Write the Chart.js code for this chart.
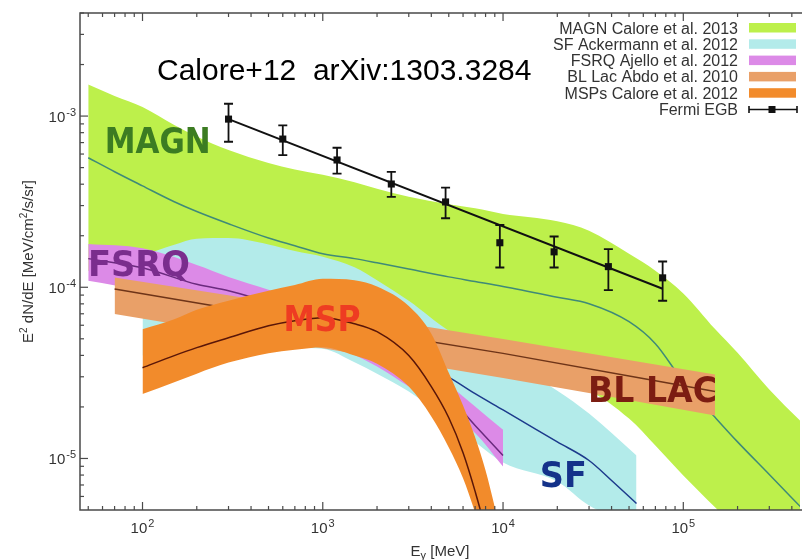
<!DOCTYPE html>
<html>
<head>
<meta charset="utf-8">
<title>Extragalactic gamma-ray background components</title>
<script src="https://cdn.jsdelivr.net/npm/chart.js@4.4.0/dist/chart.umd.min.js"></script>
<style>
  html, body { margin: 0; padding: 0; background: #fff; }
  #wrap { width: 805px; height: 560px; overflow: hidden; }
</style>
</head>
<body>
<div id="wrap"><canvas id="chart" width="805" height="560"></canvas></div>
<script>
// Energies in MeV, fluxes as E^2 dN/dE in MeV/cm^2/s/sr

// MAGN (Calore et al. 2013)
const magnE    = [50, 70, 100, 150, 200, 300, 500, 700, 1000, 1500, 2000, 3000, 5000, 7000, 1e4, 2e4, 3e4, 5e4, 7e4, 1e5, 1.5e5, 2e5, 3e5, 4.5e5];
const magnHigh = [1.53e-3, 1.31e-3, 1.13e-3, 8.87e-4, 7.60e-4, 6.33e-4, 5.32e-4, 4.88e-4, 4.54e-4, 4.10e-4, 3.76e-4, 3.38e-4, 3.05e-4, 2.89e-4, 2.68e-4, 2.43e-4, 2.14e-4, 1.57e-4, 1.25e-4, 9.21e-5, 5.71e-5, 4.15e-5, 2.53e-5, 1.64e-5];
const magnMid  = [5.71e-4, 4.73e-4, 3.91e-4, 3.16e-4, 2.77e-4, 2.35e-4, 1.94e-4, 1.75e-4, 1.57e-4, 1.47e-4, 1.39e-4, 1.28e-4, 1.15e-4, 1.08e-4, 1.01e-4, 8.74e-5, 8.01e-5, 6.29e-5, 4.68e-5, 2.81e-5, 1.74e-5, 1.25e-5, 8.06e-6, 5.18e-6];
const magnLow  = [1.25e-4, 1.17e-4, 1.09e-4, 9.54e-5, 8.92e-5, 8.34e-5, 7.29e-5, 6.82e-5, 6.38e-5, 5.81e-5, 5.43e-5, 5.01e-5, 4.38e-5, 3.99e-5, 3.63e-5, 2.77e-5, 2.49e-5, 1.71e-5, 1.19e-5, 7.96e-6, 5.18e-6, 3.80e-6, 2.54e-6, 1.59e-6];

// SF (Ackermann et al. 2012)
const sfE     = [100, 150, 200, 300, 500, 700, 1000, 1500, 2000, 3000, 5000, 1e4, 2e4, 3e4, 5.5e4];
const sfHigh  = [1.53e-4, 1.77e-4, 1.92e-4, 1.94e-4, 1.78e-4, 1.63e-4, 1.51e-4, 1.31e-4, 1.10e-4, 8.34e-5, 5.58e-5, 3.83e-5, 2.49e-5, 1.83e-5, 1.04e-5];
const sfLow   = [3.99e-5, 4.10e-5, 4.21e-5, 4.26e-5, 4.38e-5, 4.44e-5, 4.38e-5, 3.65e-5, 3.13e-5, 2.46e-5, 1.67e-5, 9.48e-6, 7.34e-6, 5.32e-6, 4.07e-6];
const sfLineE = [4500, 5000, 7000, 1e4, 2e4, 3e4, 4e4, 5.5e4];
const sfMid   = [3.17e-5, 2.99e-5, 2.39e-5, 1.92e-5, 1.25e-5, 9.73e-6, 7.44e-6, 5.46e-6];

// FSRQ (Ajello et al. 2012)
const fsrqE    = [50, 100, 200, 300, 500, 1000, 1500, 2000, 3000, 5000, 7000, 1e4];
const fsrqHigh = [1.79e-4, 1.69e-4, 1.35e-4, 1.15e-4, 9.67e-5, 7.29e-5, 6.12e-5, 5.21e-5, 4.15e-5, 2.70e-5, 2.01e-5, 1.47e-5];
const fsrqMid  = [1.47e-4, 1.30e-4, 1.04e-4, 9.54e-5, 8.12e-5, 5.96e-5, 5.01e-5, 4.26e-5, 3.05e-5, 2.27e-5, 1.56e-5, 1.04e-5];
const fsrqLow  = [1.09e-4, 9.54e-5, 7.80e-5, 6.82e-5, 5.73e-5, 4.88e-5, 4.04e-5, 3.44e-5, 2.63e-5, 1.87e-5, 1.41e-5, 8.98e-6];

// BL Lac (Abdo et al. 2010)
const bllacE    = [70, 1000, 1e4, 1.5e5];
const bllacHigh = [1.14e-4, 7.35e-5, 4.98e-5, 3.09e-5];
const bllacMid  = [9.76e-5, 6.08e-5, 4.11e-5, 2.46e-5];
const bllacLow  = [6.98e-5, 4.40e-5, 2.95e-5, 1.78e-5];

// MSPs (Calore et al. 2012)
const mspE    = [100, 150, 200, 300, 500, 700, 1000, 1500, 2000, 3000, 4000, 5000, 6000, 7000, 8000, 9000, 1e4];
const mspHigh = [5.69e-5, 6.51e-5, 7.39e-5, 8.34e-5, 9.54e-5, 1.03e-4, 1.12e-4, 1.10e-4, 1.01e-4, 7.77e-5, 5.36e-5, 3.17e-5, 2.04e-5, 1.33e-5, 8.51e-6, 5.18e-6, 3.11e-6];
const mspMid  = [3.39e-5, 3.99e-5, 4.44e-5, 5.07e-5, 5.96e-5, 6.38e-5, 6.64e-5, 6.12e-5, 5.50e-5, 3.99e-5, 2.63e-5, 1.73e-5, 1.08e-5, 6.42e-6, 3.80e-6, 2.08e-6, 1.20e-6];
const mspLow  = [2.38e-5, 2.79e-5, 3.13e-5, 3.63e-5, 4.12e-5, 4.32e-5, 4.47e-5, 4.00e-5, 3.58e-5, 2.63e-5, 1.76e-5, 1.16e-5, 7.67e-6, 4.84e-6, 3.11e-6, 1.94e-6, 8.0e-7];

// Fermi EGB data points with error bars, and the power-law line through them
const fermiE    = [300, 600, 1200, 2400, 4800, 9600, 19200, 38400, 76800];
const fermiFlux = [9.60e-4, 7.34e-4, 5.54e-4, 4.01e-4, 3.15e-4, 1.82e-4, 1.61e-4, 1.32e-4, 1.135e-4];
const fermiHigh = [1.18e-3, 8.83e-4, 6.53e-4, 4.72e-4, 3.82e-4, 2.31e-4, 1.98e-4, 1.67e-4, 1.414e-4];
const fermiLow  = [7.08e-4, 5.92e-4, 4.61e-4, 3.37e-4, 2.53e-4, 1.305e-4, 1.305e-4, 9.63e-5, 8.34e-5];
const fermiFitE    = [300, 76800];
const fermiFitFlux = [9.60e-4, 9.80e-5];

// axis ticks
const xTickValues = [1e2, 1e3, 1e4, 1e5];
const xTickExps   = ['2', '3', '4', '5'];
const yTickValues = [1e-5, 1e-4, 1e-3];
const yTickExps   = ['-5', '-4', '-3'];

// legend entries
const legendLabels = ['MAGN Calore et al. 2013', 'SF Ackermann et al. 2012', 'FSRQ Ajello et al. 2012',
                      'BL Lac Abdo et al. 2010', 'MSPs Calore et al. 2012', 'Fermi EGB'];

const FONT = '"Liberation Sans", Arial, Helvetica, sans-serif';
const COLORS = {
  magn: '#bdf04b', magnLine: '#3f8a78',
  sf: '#b3ebea', sfLine: '#1c3a8c',
  fsrq: '#dc8ae7', fsrqLine: '#6a2a7e',
  bllac: '#e9a068', bllacLine: '#6e3418',
  msp: '#f28b2b', mspLine: '#5a1608',
  frame: '#4a4a4a'
};

// in-plot labels (anchor = left/baseline, in data units; width in px)
const bandLabels = [
  { text: 'MAGN',   E: 61.7,   F: 6.08e-4, width: 106, color: '#3c7c22' },
  { text: 'FSRQ',   E: 49.8,   F: 1.17e-4, width: 102, color: '#7a2d8d' },
  { text: 'MSP',    E: 606,    F: 5.58e-5, width: 77,  color: '#ee3c22' },
  { text: 'BL LAC', E: 2.96e4, F: 2.15e-5, width: 129, color: '#7c1d12' },
  { text: 'SF',     E: 1.6e4,  F: 6.78e-6, width: 47,  color: '#14328a' }
];

function pts(xs, ys) {
  return xs.map((x, i) => ({ x: x, y: ys[i] }));
}

function band(xs, hi, lo, color, order) {
  return [
    { data: pts(xs, hi), fill: '+1', backgroundColor: color, borderWidth: 0, pointRadius: 0, order: order, cubicInterpolationMode: 'monotone' },
    { data: pts(xs, lo), fill: false, borderWidth: 0, pointRadius: 0, order: order, cubicInterpolationMode: 'monotone' }
  ];
}

function curve(xs, ys, color, order) {
  return { data: pts(xs, ys), fill: false, borderColor: color, borderWidth: 1.5, pointRadius: 0, order: order, cubicInterpolationMode: 'monotone' };
}

// "10" with a raised exponent
function drawPow(ctx, exp, x, y, align) {
  const size = 15, small = 11;
  ctx.font = size + 'px ' + FONT;
  const wBase = ctx.measureText('10').width;
  ctx.font = small + 'px ' + FONT;
  const wExp = ctx.measureText(exp).width;
  const total = wBase + 1 + wExp;
  const left = align === 'right' ? x - total : x - total / 2;
  ctx.textAlign = 'left';
  ctx.textBaseline = 'alphabetic';
  ctx.font = size + 'px ' + FONT;
  ctx.fillText('10', left, y);
  ctx.font = small + 'px ' + FONT;
  ctx.fillText(exp, left + wBase + 1, y - 6);
}

function minorValues(min, max) {
  const out = [];
  for (let p = Math.floor(Math.log10(min)); p <= Math.ceil(Math.log10(max)); p++) {
    for (let m = 1; m <= 9; m++) {
      const v = m * Math.pow(10, p);
      if (v >= min && v <= max) out.push({ v: v, major: m === 1 });
    }
  }
  return out;
}

const gnuplotPlugin = {
  id: 'gnuplotLook',
  afterDatasetsDraw(chart) {
    const { ctx, scales: { x, y } } = chart;
    // Fermi error bars
    ctx.save();
    ctx.strokeStyle = '#111';
    ctx.lineWidth = 1.8;
    fermiE.forEach((e, i) => {
      const px = x.getPixelForValue(e);
      const y1 = y.getPixelForValue(fermiHigh[i]);
      const y2 = y.getPixelForValue(fermiLow[i]);
      ctx.beginPath();
      ctx.moveTo(px, y1); ctx.lineTo(px, y2);
      ctx.moveTo(px - 4.5, y1); ctx.lineTo(px + 4.5, y1);
      ctx.moveTo(px - 4.5, y2); ctx.lineTo(px + 4.5, y2);
      ctx.stroke();
    });
    ctx.restore();

    // band labels
    ctx.save();
    ctx.textAlign = 'left';
    ctx.textBaseline = 'alphabetic';
    bandLabels.forEach(l => {
      ctx.font = 'bold 36px "DejaVu Sans", sans-serif';
      const w = ctx.measureText(l.text).width;
      const px = x.getPixelForValue(l.E);
      const py = y.getPixelForValue(l.F);
      ctx.save();
      ctx.translate(px, py);
      ctx.scale(l.width / w, 1);
      ctx.fillStyle = l.color;
      ctx.fillText(l.text, 0, 0);
      ctx.restore();
    });
    ctx.restore();
  },
  afterDraw(chart) {
    const { ctx, chartArea: a, scales: { x, y } } = chart;
    ctx.save();
    ctx.strokeStyle = COLORS.frame;
    ctx.fillStyle = '#333';
    ctx.lineWidth = 1.5;

    // frame
    ctx.beginPath();
    ctx.moveTo(a.right + 2, a.top); ctx.lineTo(a.left, a.top);
    ctx.lineTo(a.left, a.bottom); ctx.lineTo(a.right + 2, a.bottom);
    ctx.stroke();

    // inward ticks on bottom and top
    ctx.lineWidth = 1.2;
    minorValues(x.min, x.max).forEach(t => {
      const px = x.getPixelForValue(t.v);
      const len = t.major ? 8 : 4;
      ctx.beginPath();
      ctx.moveTo(px, a.bottom); ctx.lineTo(px, a.bottom - len);
      ctx.moveTo(px, a.top); ctx.lineTo(px, a.top + len);
      ctx.stroke();
    });
    minorValues(y.min, y.max).forEach(t => {
      const py = y.getPixelForValue(t.v);
      const len = t.major ? 8 : 4;
      ctx.beginPath();
      ctx.moveTo(a.left, py); ctx.lineTo(a.left + len, py);
      ctx.stroke();
    });

    // tick labels
    xTickValues.forEach((v, i) => drawPow(ctx, xTickExps[i], x.getPixelForValue(v), a.bottom + 23, 'center'));
    yTickValues.forEach((v, i) => drawPow(ctx, yTickExps[i], a.left - 4, y.getPixelForValue(v) + 6, 'right'));

    // axis titles
    ctx.font = '15px ' + FONT;
    ctx.textAlign = 'left';
    const cx = (a.left + a.right) / 2;
    const wE = ctx.measureText('E').width;
    ctx.font = '11px ' + FONT;
    const wG = ctx.measureText('\u03b3').width;
    ctx.font = '15px ' + FONT;
    const wRest = ctx.measureText(' [MeV]').width;
    let tx = cx - (wE + wG + wRest) / 2;
    ctx.fillText('E', tx, 556);
    ctx.font = '11px ' + FONT;
    ctx.fillText('\u03b3', tx + wE, 559);
    ctx.font = '15px ' + FONT;
    ctx.fillText(' [MeV]', tx + wE + wG, 556);

    ctx.save();
    ctx.translate(33, (a.top + a.bottom) / 2);
    ctx.rotate(-Math.PI / 2);
    const parts = [['E', 15, 0], ['2', 10, -6], [' dN/dE [MeV/cm', 15, 0], ['2', 10, -6], ['/s/sr]', 15, 0]];
    let total = 0;
    parts.forEach(p => { ctx.font = p[1] + 'px ' + FONT; total += ctx.measureText(p[0]).width; });
    let ox = -total / 2;
    parts.forEach(p => {
      ctx.font = p[1] + 'px ' + FONT;
      ctx.fillText(p[0], ox, p[2]);
      ox += ctx.measureText(p[0]).width;
    });
    ctx.restore();

    // title text
    ctx.fillStyle = '#000';
    ctx.font = '30px ' + FONT;
    ctx.textAlign = 'left';
    ctx.fillText('Calore+12  arXiv:1303.3284', 157, 80);

    // legend
    const swatches = [COLORS.magn, COLORS.sf, COLORS.fsrq, COLORS.bllac, COLORS.msp];
    ctx.font = '16px ' + FONT;
    ctx.textAlign = 'right';
    legendLabels.forEach((label, i) => {
      const base = 33.5 + i * 16.3;
      ctx.fillStyle = '#333';
      ctx.fillText(label, 738, base);
      if (i < swatches.length) {
        ctx.fillStyle = swatches[i];
        ctx.fillRect(749, base - 10.5, 47, 9.5);
      } else {
        const my = base - 5.5;
        ctx.strokeStyle = '#111';
        ctx.lineWidth = 1.6;
        ctx.beginPath();
        ctx.moveTo(749, my); ctx.lineTo(797, my);
        ctx.moveTo(749, my - 3.5); ctx.lineTo(749, my + 3.5);
        ctx.moveTo(797, my - 3.5); ctx.lineTo(797, my + 3.5);
        ctx.stroke();
        ctx.fillStyle = '#111';
        ctx.fillRect(772 - 3.5, my - 3.5, 7, 7);
      }
    });
    ctx.restore();
  }
};

const datasets = [].concat(
  band(magnE, magnHigh, magnLow, COLORS.magn, 100),
  [curve(magnE, magnMid, COLORS.magnLine, 95)],
  band(sfE, sfHigh, sfLow, COLORS.sf, 90),
  [curve(sfLineE, sfMid, COLORS.sfLine, 85)],
  band(fsrqE, fsrqHigh, fsrqLow, COLORS.fsrq, 80),
  [curve(fsrqE, fsrqMid, COLORS.fsrqLine, 75)],
  band(bllacE, bllacHigh, bllacLow, COLORS.bllac, 70),
  [curve(bllacE, bllacMid, COLORS.bllacLine, 65)],
  band(mspE, mspHigh, mspLow, COLORS.msp, 60),
  [curve(mspE, mspMid, COLORS.mspLine, 55)],
  [{ data: pts(fermiFitE, fermiFitFlux), fill: false, borderColor: '#111', borderWidth: 2, pointRadius: 0, order: 10 }],
  [{ data: pts(fermiE, fermiFlux), showLine: false, pointStyle: 'rect', pointRadius: 5, backgroundColor: '#111', borderColor: '#111', borderWidth: 0, order: 5 }]
);

new Chart(document.getElementById('chart'), {
  type: 'line',
  data: { datasets: datasets },
  options: {
    responsive: false,
    animation: false,
    devicePixelRatio: 1,
    layout: { padding: { left: 80, top: 13, right: 0, bottom: 50 } },
    plugins: { legend: { display: false }, tooltip: { enabled: false } },
    scales: {
      x: { type: 'logarithmic', min: 45, max: 4.44e5, display: false },
      y: { type: 'logarithmic', min: 5e-6, max: 4e-3, display: false }
    }
  },
  plugins: [gnuplotPlugin]
});
</script>
</body>
</html>
